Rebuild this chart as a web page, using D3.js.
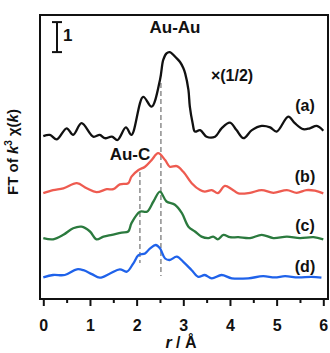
<!DOCTYPE html>
<html><head><meta charset="utf-8">
<script src="https://cdn.jsdelivr.net/npm/d3@7"></script>
<style>
html,body{margin:0;padding:0;background:#fff;}
svg text{font-family:"Liberation Sans",Arial,sans-serif;font-weight:bold;fill:#111;}
</style></head>
<body>
<svg id="chart" width="330" height="353"></svg>
<script>
// ---- data (display units: 1 unit = scale bar "1") ----
const xTicks = [0, 1, 2, 3, 4, 5, 6];
const xMinorTicks = [0.5, 1.5, 2.5, 3.5, 4.5, 5.5];
const seriesNames = ["(a)", "(b)", "(c)", "(d)"];
const seriesColors = ["#111111", "#ee5b50", "#2b7a3e", "#1f62ea"];
const seriesOffsets = [5.4, 3.55, 2.02, 0.73];

const rA = [0,0.14,0.29,0.50,0.64,0.82,1.07,1.21,1.32,1.47,1.59,1.77,1.89,2.14,2.32,2.50,2.57,2.64,2.71,2.86,2.93,3.00,3.04,3.11,3.14,3.20,3.25,3.36,3.50,3.68,3.82,4.00,4.14,4.29,4.47,4.68,4.86,5.00,5.25,5.39,5.57,5.71,5.86,6.00];
const vA = [0.03,0.07,-0.08,0.29,0.07,0.46,0.01,0.07,-0.04,0.01,-0.10,0.32,0.07,1.34,1.01,1.90,2.57,2.79,2.83,2.62,2.50,2.30,2.12,1.57,1.01,0.46,0.18,0.23,0.01,0.01,0.29,0.48,0.23,-0.04,0.23,0.37,0.32,0.18,0.68,0.46,0.26,0.29,0.37,0.21];

const rB = [0,0.21,0.43,0.72,0.93,1.14,1.36,1.50,1.64,1.82,1.89,2.04,2.18,2.32,2.46,2.61,2.71,2.86,3.00,3.18,3.36,3.46,3.61,3.74,3.89,4.04,4.18,4.43,4.68,4.93,5.22,5.43,5.64,5.82,6.00];
const vB = [-0.02,0.08,0.14,0.31,0.14,0.01,0.11,0.11,0.27,0.31,0.53,0.75,0.86,1.08,1.31,1.08,0.86,0.88,0.69,0.31,0.08,0.03,0.08,-0.02,0.22,0.11,-0.03,-0.01,0.08,-0.01,0.08,-0.01,0.08,0.06,-0.03];

const rC = [0,0.21,0.43,0.64,0.82,1.00,1.14,1.29,1.47,1.68,1.82,1.89,2.07,2.22,2.36,2.50,2.64,2.82,2.97,3.11,3.25,3.39,3.54,3.64,3.74,3.86,4.00,4.18,4.43,4.68,4.93,5.22,5.50,5.79,6.00];
const vC = [0.01,-0.03,0.12,0.34,0.39,0.23,-0.03,0.06,0.12,0.19,0.23,0.51,0.89,0.89,1.23,1.56,1.23,1.12,0.84,0.39,0.23,0.06,0.01,0.06,-0.03,0.12,0.04,0.04,0.01,0.12,0.01,0.06,0.01,0.04,-0.03];

const rD = [0,0.21,0.46,0.72,0.86,1.04,1.21,1.43,1.64,1.79,1.93,2.04,2.18,2.29,2.41,2.50,2.61,2.71,2.86,3.00,3.18,3.32,3.46,3.61,3.82,4.04,4.39,4.71,4.96,5.18,5.46,5.75,5.96];
const vD = [-0.01,0.07,0.07,0.26,0.23,0.10,-0.02,0.12,0.26,0.18,0.46,0.73,0.79,0.96,1.07,0.96,0.62,0.57,0.68,0.51,0.23,0.01,0.07,-0.04,0.07,-0.04,-0.04,0.03,-0.01,0.03,-0.01,0.01,-0.02];

const seriesR = [rA, rB, rC, rD];
const seriesV = [vA, vB, vC, vD];

// reference dashed lines: [r, yStart, yEnd]
const refLines = [[2.07, 4.23, 1.2], [2.52, 7.2, 0.77]];

// ---- drawing ----
const svg = d3.select("#chart");
const frame = {left: 40, top: 15, right: 328, bottom: 299};
const x = d3.scaleLinear().domain([0, 6]).range([43.3, 323.3]);
const y = d3.scaleLinear().domain([0, 9.5]).range([299, 14]);

// dashed reference lines
svg.append("g").selectAll("line").data(refLines).join("line")
  .attr("x1", d => x(d[0])).attr("x2", d => x(d[0]))
  .attr("y1", d => y(d[1])).attr("y2", d => y(d[2]))
  .attr("stroke", "#9a9a9a").attr("stroke-width", 1.7)
  .attr("stroke-dasharray", "5,3");

// curves
const line = d3.line().x(d => x(d[0])).y(d => y(d[1])).curve(d3.curveCatmullRom.alpha(0.5));
seriesR.forEach((rs, i) => {
  const pts = rs.map((r, j) => [r, seriesV[i][j] + seriesOffsets[i]]);
  svg.append("path").datum(pts)
    .attr("d", line).attr("fill", "none")
    .attr("stroke", seriesColors[i]).attr("stroke-width", 2.3)
    .attr("stroke-linejoin", "round");
});

// frame
svg.append("rect")
  .attr("x", frame.left).attr("y", frame.top)
  .attr("width", frame.right - frame.left).attr("height", frame.bottom - frame.top)
  .attr("fill", "none").attr("stroke", "#111").attr("stroke-width", 2);

// x axis
const xAxis = svg.append("g").attr("transform", `translate(0,${frame.bottom})`)
  .call(d3.axisBottom(x).tickValues(xTicks).tickFormat(d3.format("d")).tickSize(7).tickPadding(14).tickSizeOuter(0));
xAxis.select(".domain").remove();
xAxis.selectAll(".tick line").attr("stroke", "#111").attr("stroke-width", 2);
xAxis.selectAll(".tick text").style("font-size", "16px").style("font-family", "Liberation Sans, Arial, sans-serif").style("font-weight", "bold").attr("fill", "#111");
const xMinor = svg.append("g").attr("transform", `translate(0,${frame.bottom})`)
  .call(d3.axisBottom(x).tickValues(xMinorTicks).tickSize(4).tickFormat(""));
xMinor.select(".domain").remove();
xMinor.selectAll(".tick line").attr("stroke", "#111").attr("stroke-width", 2);

// axis titles
const xt = svg.append("text").attr("x", 181).attr("y", 348).attr("text-anchor", "middle").style("font-size", "16px");
xt.append("tspan").style("font-style", "italic").text("r");
xt.append("tspan").text(" / Å");

const yt = svg.append("text").attr("transform", "translate(18,152) rotate(-90)").attr("text-anchor", "middle").style("font-size", "15px");
yt.append("tspan").text("FT of ");
yt.append("tspan").style("font-style", "italic").text("k");
yt.append("tspan").attr("dy", -6).style("font-size", "10px").text("3");
yt.append("tspan").attr("dy", 6).text(" χ(");
yt.append("tspan").style("font-style", "italic").text("k");
yt.append("tspan").text(")");

// scale bar
const sb = svg.append("g").attr("stroke", "#111").attr("stroke-width", 2);
sb.append("line").attr("x1", 57).attr("x2", 57).attr("y1", y(9.23)).attr("y2", y(8.23));
sb.append("line").attr("x1", 52).attr("x2", 62).attr("y1", y(9.23)).attr("y2", y(9.23));
sb.append("line").attr("x1", 52).attr("x2", 62).attr("y1", y(8.23)).attr("y2", y(8.23));
svg.append("text").attr("x", 63).attr("y", 41).style("font-size", "17px").text("1");

// annotations
svg.append("text").attr("x", 175).attr("y", 33).attr("text-anchor", "middle").style("font-size", "17px").text("Au-Au");
svg.append("text").attr("x", 130).attr("y", 160).attr("text-anchor", "middle").style("font-size", "17px").text("Au-C");
svg.append("text").attr("x", 232).attr("y", 81).attr("text-anchor", "middle").style("font-size", "16px").text("×(1/2)");

// series labels
const labelY = [111, 182, 231, 272];
seriesNames.forEach((n, i) => {
  svg.append("text").attr("x", 305).attr("y", labelY[i]).attr("text-anchor", "middle").style("font-size", "16px").text(n);
});
</script>
</body></html>
